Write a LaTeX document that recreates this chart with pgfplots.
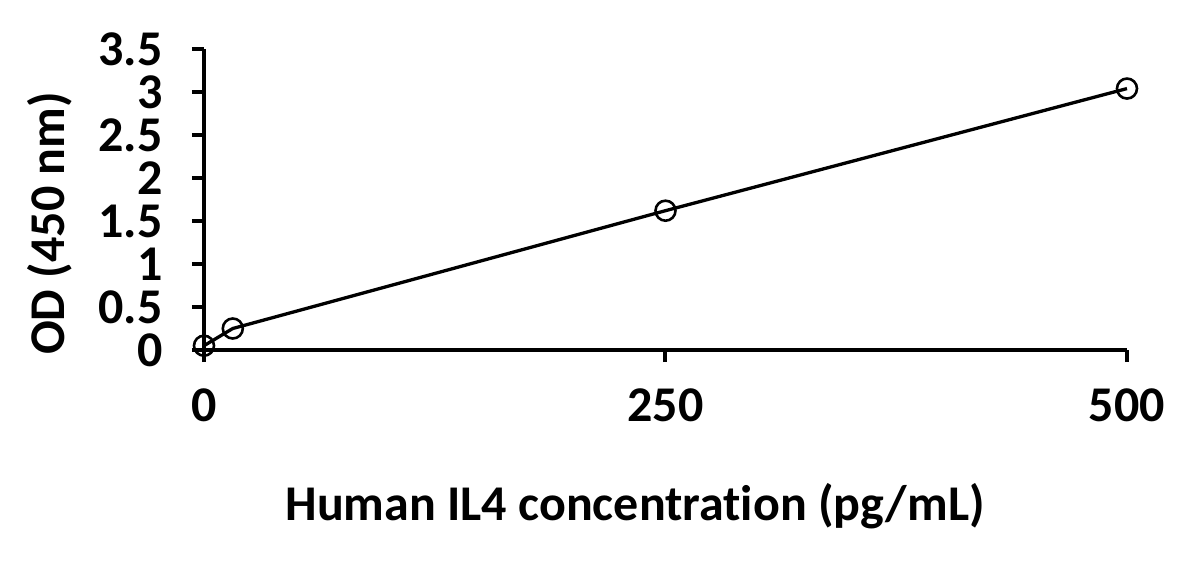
\documentclass[border=0pt]{standalone}
\usepackage{pgfplots}
\pgfplotsset{compat=1.18}
\usepackage{fontspec}
\setmainfont[Ligatures=NoCommon]{Carlito}
\begin{document}
\begin{tikzpicture}
\path[use as bounding box] (-204pt,-212pt) rectangle (983pt,350pt);
\begin{axis}[
    at={(0pt,0pt)}, anchor=south west,
    scale only axis,
    width=923pt, height=301pt,
    xmin=0, xmax=500, ymin=0, ymax=3.5,
    axis x line*=bottom, axis y line*=left,
    axis line style={line width=4pt, -},
    xtick={0,250,500}, ytick={0,0.5,...,3.5},
    tick align=outside,
    major tick length=12pt,
    tick style={line width=4pt, black},
    ticklabel style={font=\fontsize{50}{50}\selectfont\bfseries, inner ysep=1pt},
    /pgf/number format/assume math mode=true,
    yticklabel style={xshift=-26pt},
    xticklabel style={yshift=-26pt},
    xlabel={Human IL4 concentration (pg/mL)},
    ylabel={OD (450 nm)},
    label style={font=\fontsize{50}{50}\selectfont\bfseries},
    xlabel style={at={(axis description cs:0.467,0)}, anchor=base, yshift=-170pt},
    ylabel style={at={(axis description cs:-0.167,0.42)}, anchor=center},
    clip=false,
]
\addplot[black, line width=3.3pt, mark=o, mark size=10pt,
    mark options={line width=2.6pt, fill=white}]
    coordinates {(0,0.05) (15.6,0.25) (250,1.62) (500,3.04)};
\end{axis}
\end{tikzpicture}
\end{document}
